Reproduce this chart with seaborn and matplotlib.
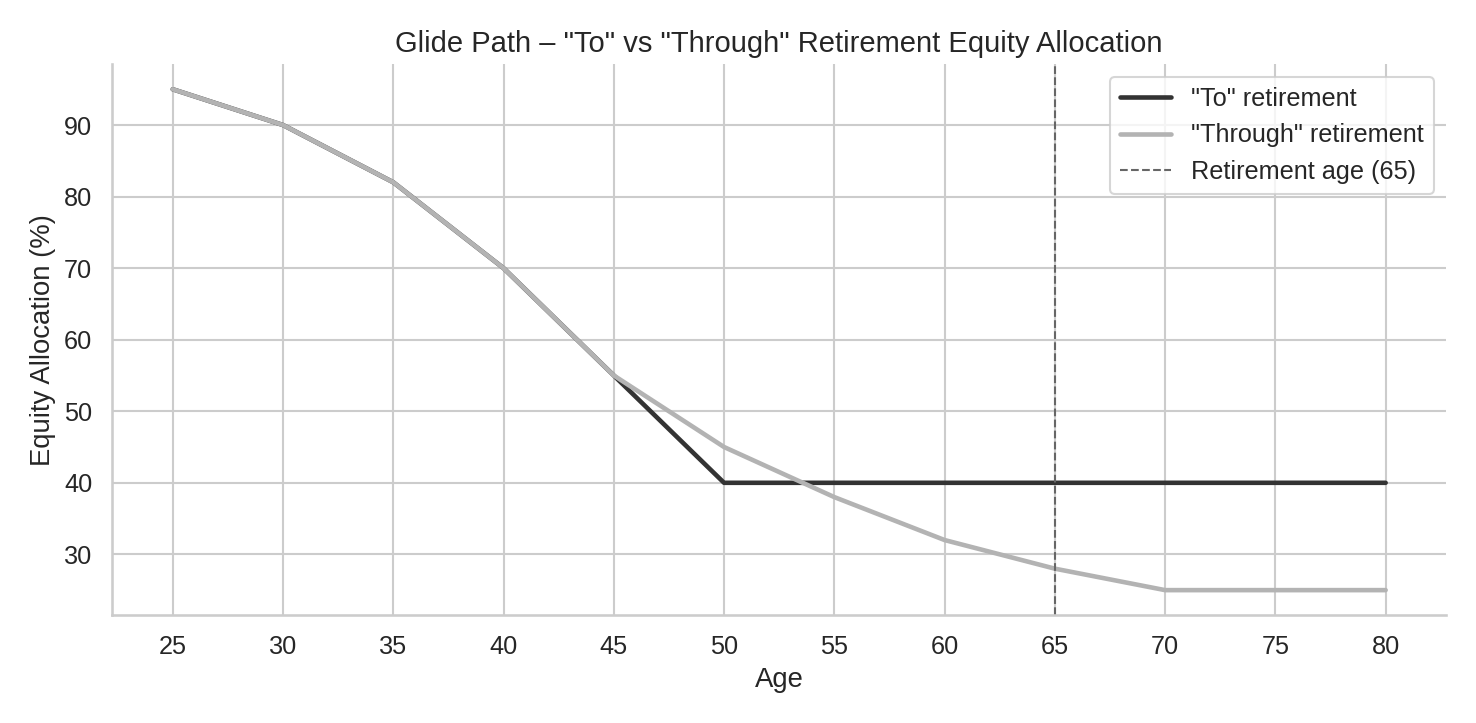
import matplotlib
matplotlib.use("Agg")
import matplotlib.pyplot as plt
import seaborn as sns
import pandas as pd

ages = [25, 30, 35, 40, 45, 50, 55, 60, 65, 70, 75, 80]
to_equity = [95, 90, 82, 70, 55, 40, 40, 40, 40, 40, 40, 40]
through_equity = [95, 90, 82, 70, 55, 45, 38, 32, 28, 25, 25, 25]
retirement_age = 65

sns.set_theme(style="whitegrid", font_scale=1.1)
plt.rcParams['font.family'] = ['Liberation Sans', 'DejaVu Sans']
fig, ax = plt.subplots(figsize=(9.84, 4.82), dpi=150)
df = pd.DataFrame({"Age": ages, "To": to_equity, "Through": through_equity})
sns.lineplot(data=df, x="Age", y="To", ax=ax, color="#333333", linewidth=2.2, label='"To" retirement')
sns.lineplot(data=df, x="Age", y="Through", ax=ax, color="#b3b3b3", linewidth=2.2, label='"Through" retirement')
ax.axvline(retirement_age, color="#666666", linestyle="--", linewidth=1, label="Retirement age (65)")
ax.set_xticks(ages)
ax.set_xlabel("Age")
ax.set_ylabel("Equity Allocation (%)")
ax.set_title('Glide Path – "To" vs "Through" Retirement Equity Allocation', fontsize=14)
sns.despine(ax=ax)
ax.legend(loc="upper right")
fig.tight_layout()
fig.savefig("out.png", dpi=150)
